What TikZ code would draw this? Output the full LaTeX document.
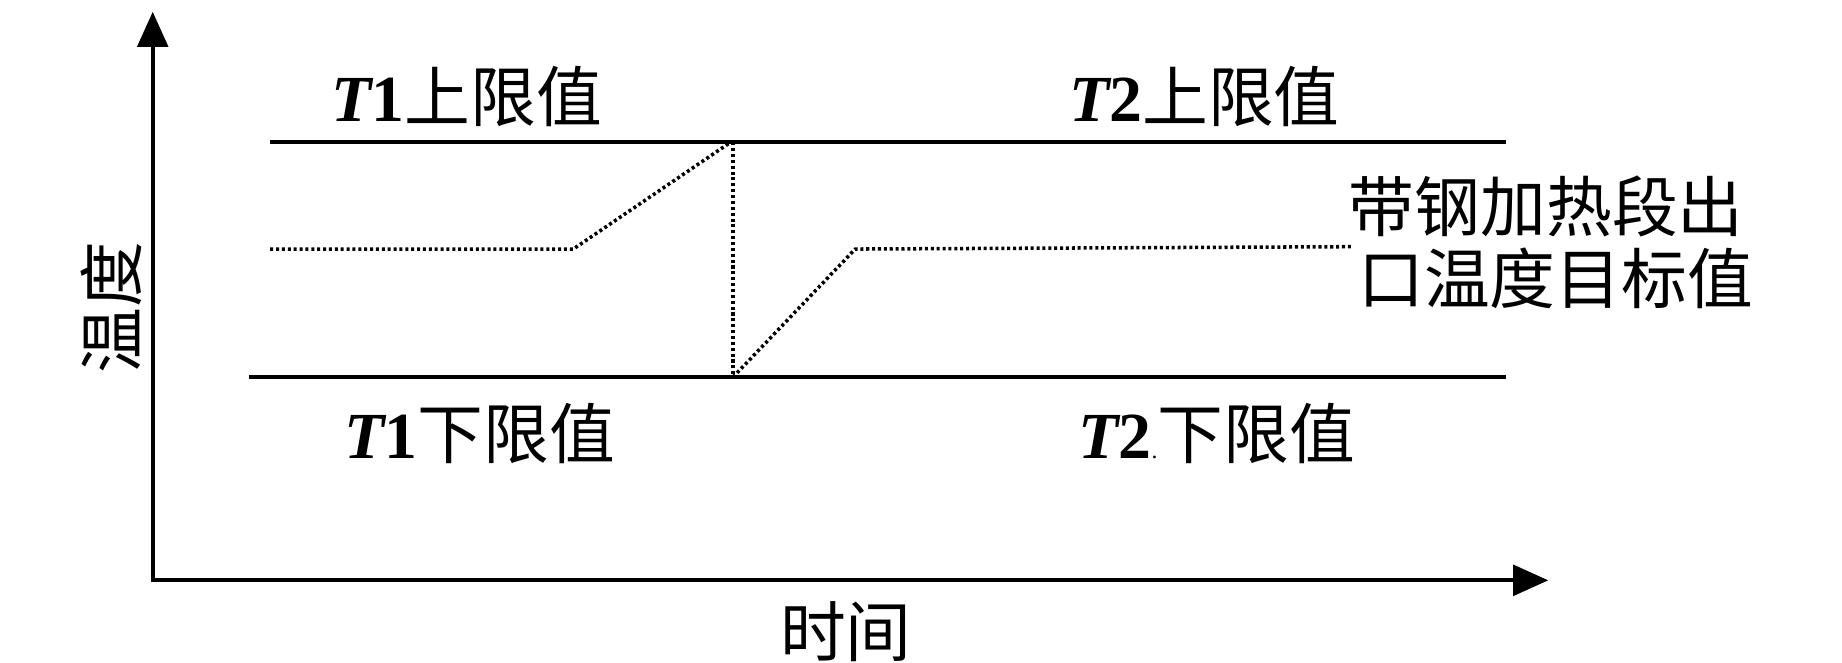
\documentclass[tikz,border=0pt]{standalone}
\usepackage{fontspec}
\setmainfont{Liberation Serif}
\newfontfamily\cjk{Noto Sans CJK SC}
\usetikzlibrary{arrows.meta}
\newcommand{\TT}[1]{{\bfseries\itshape T}{\bfseries #1}}
\begin{document}
\begin{tikzpicture}[x=1pt,y=-1pt,
  axis/.style={line width=3.6pt,{Triangle[length=30pt,width=26pt]}-{Triangle[length=30pt,width=26pt]}},
  limit/.style={line width=4pt},
  target/.style={line width=3pt, dash pattern=on 2.6pt off 2.4pt},
  lbl/.style={inner sep=0pt, font=\fontsize{56}{64}\selectfont},
]
\useasboundingbox (0,0) rectangle (1568,564);
\fill[white] (0,0) rectangle (1568,564);
% axes
\coordinate (O) at (130,494);
\coordinate (ytip) at (130,10);
\coordinate (xtip) at (1318,494);
\draw[axis] (ytip) -- (O) -- (xtip);
% limit lines
\coordinate (u1) at (230,121);
\coordinate (u2) at (1282,121);
\coordinate (l1) at (212,321);
\coordinate (l2) at (1282,321);
\draw[limit] (u1) -- (u2);
\draw[limit] (l1) -- (l2);
% target curve
\coordinate (t1) at (230,212);
\coordinate (t2) at (488,212);
\coordinate (t3) at (622,121);
\coordinate (v1) at (624,121);
\coordinate (v2) at (624,321);
\coordinate (t4) at (728,212);
\coordinate (t5) at (1150,210);
\draw[target] (t1) -- (t2) -- (t3);
\draw[target] (v1) -- (v2);
\draw[target] (v2) -- (t4) -- (t5);
% labels
\node[lbl,anchor=west] (T1u) at (282,82) {\TT{1}\cjk 上限值};
\node[lbl,anchor=west] (T2u) at (910,82) {\TT{2}\cjk 上限值};
\node[lbl,anchor=west] (T1l) at (293,369) {\TT{1}\cjk 下限值};
\node[lbl,anchor=west] (T2l) at (918,369) {\TT{2}{\fontsize{20}{20}\selectfont .}\cjk 下限值};
\node[lbl,anchor=west] (tg1) at (1148,176) {\cjk 带钢加热段出};
\node[lbl,anchor=west] (tg2) at (1156,237) {\cjk 口温度目标值};
\node[lbl] (ylab) at (95,262) [rotate=90] {\cjk 温度};
\node[lbl] (xlab) at (720,538) {\cjk 时间};
\end{tikzpicture}
\end{document}
